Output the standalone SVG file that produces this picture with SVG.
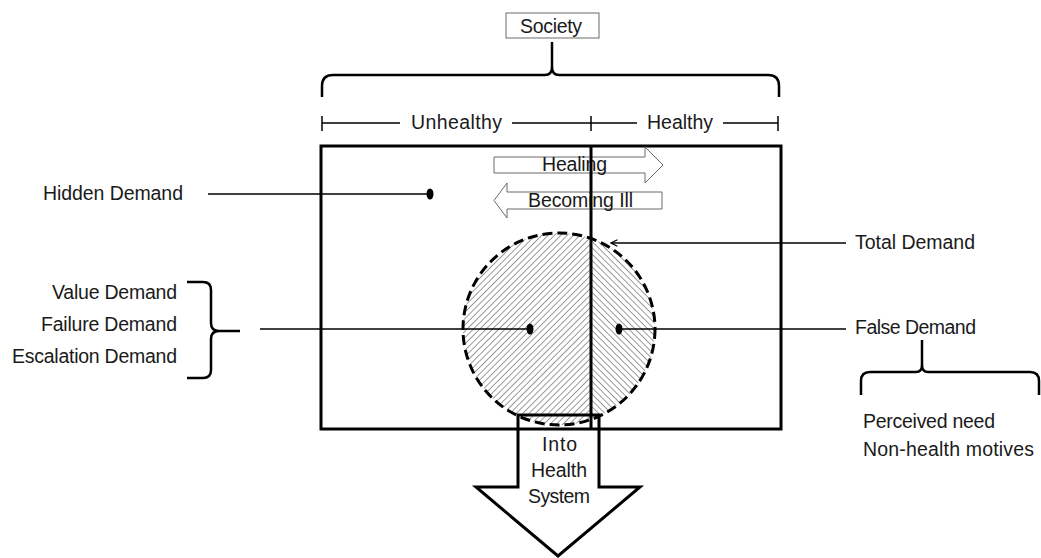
<svg xmlns="http://www.w3.org/2000/svg" width="1041" height="558" viewBox="0 0 1041 558">
  <style>
    text { font-family: "Liberation Sans", Arial, sans-serif; font-size: 19.5px; fill: #1a1a1a; }
    .thick { fill: none; stroke: #000; stroke-width: 3; }
    .brace { fill: none; stroke: #000; stroke-width: 2.5; stroke-linejoin: round; }
    .lead { fill: none; stroke: #000; stroke-width: 1.5; }
    .ruler { fill: none; stroke: #000; stroke-width: 1.5; }
    .flow { fill: #fff; stroke: #6a6a6a; stroke-width: 1; }
    .dot { fill: #000; }
  </style>
  <defs>
    <pattern id="hatchL" width="4.5" height="4.5" patternUnits="userSpaceOnUse" patternTransform="rotate(45)">
      <line x1="0" y1="0" x2="0" y2="4.5" stroke="#666" stroke-width="1.3"/>
    </pattern>
    <pattern id="hatchR" width="4.5" height="4.5" patternUnits="userSpaceOnUse" patternTransform="rotate(-45)">
      <line x1="0" y1="0" x2="0" y2="4.5" stroke="#666" stroke-width="1.3"/>
    </pattern>
    <clipPath id="leftHalf"><rect x="0" y="0" width="591" height="558"/></clipPath>
    <clipPath id="rightHalf"><rect x="591" y="0" width="450" height="558"/></clipPath>
    <marker id="openHead" viewBox="0 0 10 10" refX="9" refY="5" markerWidth="8" markerHeight="8" orient="auto-start-reverse" markerUnits="userSpaceOnUse">
      <path d="M1,1 L9,5 L1,9" fill="none" stroke="#000" stroke-width="1.6"/>
    </marker>
  </defs>

  <!-- Society label and brace -->
  <g id="society">
    <rect x="506" y="13" width="93" height="25" fill="#fff" stroke="#6a6a6a" stroke-width="1"/>
    <text x="551" y="33" text-anchor="middle" textLength="62">Society</text>
  </g>
  <g id="society-brace">
    <path class="brace" d="M322,97 L322,86 Q322,75 333,75 L545,75 Q552,75 552,67 Q552,75 559,75 L768,75 Q779,75 779,86 L779,97"/>
    <path class="brace" d="M552,67 L552,42"/>
  </g>

  <!-- Unhealthy / Healthy scale -->
  <g id="scale">
    <path class="ruler" d="M322,123 L400,123 M512,123 L637,123 M723,123 L778,123 M322,116 L322,131 M591,116 L591,131 M778,116 L778,131"/>
    <text x="411" y="129" textLength="91">Unhealthy</text>
    <text x="647" y="129" textLength="66">Healthy</text>
  </g>

  <!-- Society population box -->
  <g id="population">
    <rect class="thick" x="321" y="146" width="460" height="283"/>
  </g>

  <!-- Total demand circle -->
  <g id="total-demand-area">
    <circle cx="559" cy="329" r="96" fill="url(#hatchL)" clip-path="url(#leftHalf)"/>
    <circle cx="559" cy="329" r="96" fill="url(#hatchR)" clip-path="url(#rightHalf)"/>
    <circle cx="559" cy="329" r="96" fill="none" stroke="#000" stroke-width="3" stroke-dasharray="10 5"/>
  </g>

  <!-- Healing / Becoming Ill flows -->
  <g id="healing">
    <polygon class="flow" points="494,157 645,157 645,147 663,165 645,183 645,173 494,173"/>
    <text x="542" y="171" textLength="65">Healing</text>
  </g>
  <g id="becoming-ill">
    <polygon class="flow" points="662,192 507,192 507,183 494,200.5 507,218 507,209 662,209"/>
    <text x="528" y="207" textLength="105">Becoming Ill</text>
  </g>

  <!-- Unhealthy / Healthy divider -->
  <g id="divider">
    <line x1="591" y1="146" x2="591" y2="429" stroke="#000" stroke-width="3"/>
  </g>

  <!-- Into Health System arrow -->
  <g id="into-health-system">
    <polygon class="thick" points="518,415 599,415 599,487 640,487 558,556 476,487 518,487"/>
    <text x="559.5" y="451" text-anchor="middle" textLength="35">Into</text>
    <text x="559" y="477" text-anchor="middle" textLength="56">Health</text>
    <text x="559" y="503" text-anchor="middle" textLength="62">System</text>
  </g>

  <!-- Left-hand labels -->
  <g id="hidden-demand">
    <text x="43" y="200" textLength="140">Hidden Demand</text>
  </g>
  <g id="demand-types">
    <text x="177" y="299" text-anchor="end" textLength="125">Value Demand</text>
    <text x="177" y="331" text-anchor="end" textLength="136">Failure Demand</text>
    <text x="177" y="363" text-anchor="end" textLength="165">Escalation Demand</text>
    <path class="brace" d="M187,282 L203,282 Q211,282 211,290 L211,323 Q211,331 219,331 L240,331 M219,331 Q211,331 211,339 L211,370 Q211,378 203,378 L187,378"/>
  </g>

  <!-- Right-hand labels -->
  <g id="total-demand">
    <text x="855" y="249" textLength="120">Total Demand</text>
  </g>
  <g id="false-demand">
    <text x="855" y="334" textLength="121">False Demand</text>
    <path class="brace" d="M861,395 L861,381 Q861,372 870,372 L916,372 Q922,372 922,365 Q922,372 928,372 L1030,372 Q1039,372 1039,381 L1039,395"/>
    <path class="brace" d="M922,365 L922,340"/>
  </g>
  <g id="false-demand-causes">
    <text x="863" y="428" textLength="132">Perceived need</text>
    <text x="863" y="456" textLength="171">Non-health motives</text>
  </g>

  <!-- Connectors -->
  <g id="connectors">
    <line class="lead" x1="208" y1="194" x2="430" y2="194"/>
    <ellipse class="dot" cx="430" cy="194" rx="3.5" ry="5.5"/>
    <line class="lead" x1="260" y1="329" x2="530" y2="329"/>
    <ellipse class="dot" cx="530" cy="329" rx="3.5" ry="5.5"/>
    <line class="lead" x1="846" y1="329" x2="619" y2="329"/>
    <ellipse class="dot" cx="619" cy="329" rx="3.5" ry="5.5"/>
    <line class="lead" x1="846" y1="243" x2="611" y2="243" marker-end="url(#openHead)"/>
  </g>
</svg>
